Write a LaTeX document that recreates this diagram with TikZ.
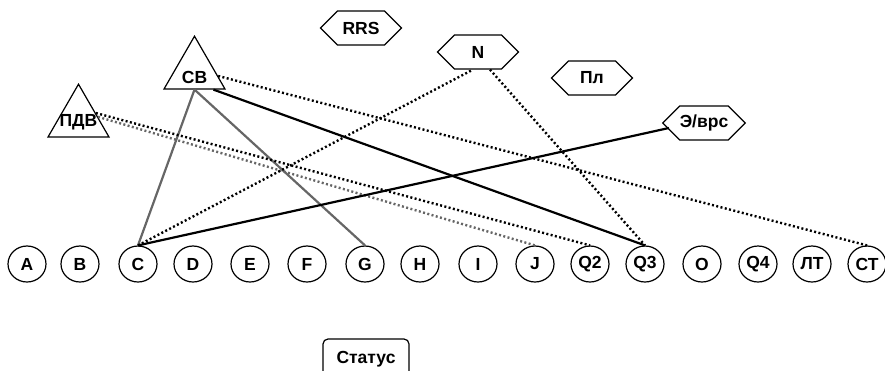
\documentclass[tikz,border=0pt]{standalone}
\usepackage{fontspec}
\setmainfont{Liberation Sans}
\usetikzlibrary{shapes.geometric,shapes.symbols,calc}
\begin{document}
\begin{tikzpicture}[x=1pt,y=-1pt,
 every node/.style={font=\fontsize{17.5}{20}\selectfont\bfseries},
 ell/.style={draw,ellipse,line width=1.2pt,minimum width=38pt,minimum height=36pt,inner sep=0pt},
 hexa/.style={draw,signal,signal to=east and west,line width=1.2pt,minimum width=81pt,minimum height=34pt,inner sep=0pt},
 tri/.style={draw,regular polygon,regular polygon sides=3,line width=1.2pt,minimum size=70.4pt,inner sep=0pt},
 statusbox/.style={draw,rounded corners=5pt,line width=1.2pt,minimum width=86pt,minimum height=40pt},
 blacksolid/.style={line width=2.2pt,black},
 graysolid/.style={line width=2.2pt,black!60},
 blackdot/.style={line width=2.4pt,black,dash pattern=on 2pt off 2.4pt},
 graydot/.style={line width=2.4pt,black!60,dash pattern=on 2pt off 2.4pt}]
\useasboundingbox (0,0) rectangle (885,370);
% row of ellipses
\node[ell] (A) at (27,264) {A};
\node[ell] (B) at (80,264) {B};
\node[ell] (C) at (138,264) {C};
\node[ell] (D) at (193,264) {D};
\node[ell] (E) at (250,264) {E};
\node[ell] (F) at (307,264) {F};
\node[ell] (G) at (365,264) {G};
\node[ell] (H) at (420,264) {H};
\node[ell] (I) at (478,264) {I};
\node[ell] (J) at (535,264) {J};
\node[ell] (Q2) at (590,264) {Q2};
\node[ell] (Q3) at (645,264) {Q3};
\node[ell] (O) at (702,264) {O};
\node[ell] (Q4) at (758,264) {Q4};
\node[ell] (LT) at (812,264) {ЛТ};
\node[ell] (CT) at (867,264) {СТ};
% triangles
\node[tri,label={[yshift=-6pt]center:СВ}] (CB) at (194.5,71.4) {};
\node[tri,label={[yshift=-3pt]center:ПДВ}] (PDV) at (78.5,119.4) {};
% hexagons
\node[hexa] (RRS) at (361,28) {RRS};
\node[hexa] (N) at (478,52) {N};
\node[hexa] (Pl) at (592,78) {Пл};
\node[hexa] (Evrs) at (704,123) {Э/врс};
% status
\node[statusbox] (St) at (366,359) {Статус};
% connectors
\draw[graysolid] (CB.side 2) -- (C.north);
\draw[graysolid] (CB.side 2) -- (G.north);
\draw[blacksolid] ($(CB.side 2)!0.6!(CB.corner 3)$) -- (Q3.north);
\draw[blackdot] ($(CB.corner 1)!0.75!(CB.corner 3)$) -- (CT.north);
\draw[blackdot] ($(PDV.corner 1)!0.55!(PDV.corner 3)$) -- (Q2.north);
\draw[graydot] ($(PDV.corner 1)!0.62!(PDV.corner 3)$) -- (J.north);
\draw[blackdot] (C.north) -- ($(N.south)+(-5,0)$);
\draw[blackdot] ($(N.south)+(12,0)$) -- (Q3.north);
\draw[blacksolid] (C.north) -- ($(Evrs.west)+(7,5)$);
\end{tikzpicture}
\end{document}
